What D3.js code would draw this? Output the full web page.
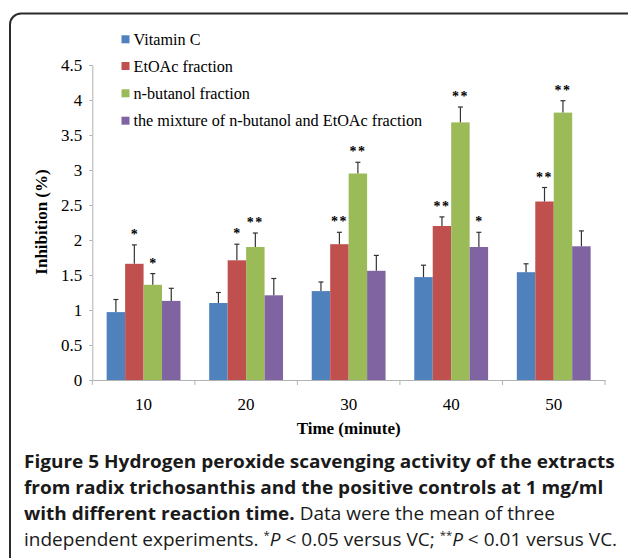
<!DOCTYPE html>
<html><head><meta charset="utf-8">
<script src="https://cdn.jsdelivr.net/npm/d3@7"></script>
<style>html,body{margin:0;padding:0;background:#fff;}svg{display:block;}</style>
</head><body>
<svg id="chart" width="628" height="558"></svg>
<script>
const categories = ["10", "20", "30", "40", "50"];
const seriesNames = ["Vitamin C", "EtOAc fraction", "n-butanol fraction", "the mixture of n-butanol and EtOAc fraction"];
const vitaminC = [0.97, 1.10, 1.27, 1.47, 1.54];
const vitaminCErr = [0.18, 0.15, 0.13, 0.17, 0.12];
const etoac = [1.66, 1.71, 1.94, 2.20, 2.55];
const etoacErr = [0.27, 0.23, 0.17, 0.13, 0.20];
const butanol = [1.36, 1.90, 2.95, 3.68, 3.82];
const butanolErr = [0.16, 0.20, 0.16, 0.22, 0.17];
const mixture = [1.13, 1.21, 1.56, 1.90, 1.91];
const mixtureErr = [0.18, 0.24, 0.22, 0.21, 0.22];
const vitaminCSig = ["", "", "", "", ""];
const etoacSig = ["*", "*", "**", "**", "**"];
const butanolSig = ["*", "**", "**", "**", "**"];
const mixtureSig = ["", "", "", "*", ""];
const yTicks = [0, 0.5, 1, 1.5, 2, 2.5, 3, 3.5, 4, 4.5];
const colors = ["#4F81BD", "#C0504D", "#9BBB59", "#8064A2"];

const series = [
  {name: seriesNames[0], values: vitaminC, errs: vitaminCErr, sig: vitaminCSig},
  {name: seriesNames[1], values: etoac, errs: etoacErr, sig: etoacSig},
  {name: seriesNames[2], values: butanol, errs: butanolErr, sig: butanolSig},
  {name: seriesNames[3], values: mixture, errs: mixtureErr, sig: mixtureSig}
];

const svg = d3.select("#chart");
const serif = "'Liberation Serif','Times New Roman',serif";

// frame
svg.append("rect").attr("x", 10).attr("y", 13.5).attr("width", 640).attr("height", 600)
  .attr("rx", 11).attr("ry", 11).attr("fill", "none").attr("stroke", "#2b2b2b").attr("stroke-width", 2);

const pL = 92.3, pR = 605, pT = 65, pB = 380;
const x0 = d3.scaleBand().domain(categories).range([pL, pR]).paddingInner(0.28).paddingOuter(0.14);
const xCat = d3.scaleBand().domain(categories).range([pL, pR]);
const x1 = d3.scaleBand().domain(d3.range(series.length)).range([0, x0.bandwidth()]);
const y = d3.scaleLinear().domain([0, 4.5]).range([pB, pT]);

// y axis
const yAxis = svg.append("g").attr("transform", `translate(${pL},0)`)
  .call(d3.axisLeft(y).tickValues(yTicks).tickSize(3).tickPadding(7).tickFormat(d => String(d)));
yAxis.select(".domain").attr("stroke", "#b3b3b3");
yAxis.selectAll(".tick line").attr("stroke", "#b3b3b3");
yAxis.selectAll("text").attr("font-family", serif).attr("font-size", 17).attr("fill", "#000");

// x axis
const xAxis = svg.append("g").attr("transform", `translate(0,${pB})`)
  .call(d3.axisBottom(xCat).tickSize(0).tickPadding(18));
xAxis.select(".domain").attr("stroke", "#b3b3b3");
xAxis.selectAll("text").attr("font-family", serif).attr("font-size", 17).attr("fill", "#000");
const bounds = categories.map(c => xCat(c)).concat([xCat(categories[categories.length-1]) + xCat.bandwidth()]);
svg.append("g").selectAll("line").data(bounds).join("line")
  .attr("x1", d => d).attr("x2", d => d).attr("y1", pB).attr("y2", pB + 5)
  .attr("stroke", "#b3b3b3");

// bars
const groups = svg.append("g").selectAll("g").data(categories).join("g")
  .attr("transform", c => `translate(${x0(c)},0)`);
groups.each(function(c, ci) {
  const g = d3.select(this);
  series.forEach((s, si) => {
    const bx = x1(si), bw = x1.bandwidth();
    const v = s.values[ci], e = s.errs[ci];
    g.append("rect").attr("x", bx).attr("width", bw).attr("y", y(v)).attr("height", y(0) - y(v))
      .attr("fill", colors[si]);
    const cx = bx + bw / 2;
    g.append("line").attr("x1", cx).attr("x2", cx).attr("y1", y(v)).attr("y2", y(v + e))
      .attr("stroke", "#333").attr("stroke-width", 1.2);
    g.append("line").attr("x1", cx - 2.5).attr("x2", cx + 2.5).attr("y1", y(v + e)).attr("y2", y(v + e))
      .attr("stroke", "#333").attr("stroke-width", 1.2);
    if (s.sig[ci]) {
      g.append("text").attr("x", cx).attr("y", y(v + e) - 6).attr("text-anchor", "middle")
        .attr("font-family", serif).attr("font-weight", "bold").attr("font-size", 14)
        .attr("letter-spacing", s.sig[ci].length > 1 ? 1.5 : 0)
        .text(s.sig[ci]);
    }
  });
});

// legend
const legY = [39.3, 66, 93.3, 120.7];
const leg = svg.append("g");
series.forEach((s, i) => {
  leg.append("rect").attr("x", 121.5).attr("y", legY[i] - 4).attr("width", 8).attr("height", 8).attr("fill", colors[i]);
  leg.append("text").attr("x", 133.5).attr("y", legY[i] + 5.5).attr("font-family", serif).attr("font-size", 16.2)
    .attr("fill", "#000").text(s.name);
});

// axis titles
svg.append("text").attr("transform", "translate(47,222) rotate(-90)").attr("text-anchor", "middle")
  .attr("font-family", serif).attr("font-weight", "bold").attr("font-size", 17).text("Inhibition (%)");
svg.append("text").attr("x", (pL + pR) / 2).attr("y", 434).attr("text-anchor", "middle")
  .attr("font-family", serif).attr("font-weight", "bold").attr("font-size", 17).text("Time (minute)");

// caption
const sans = "'Open Sans','Noto Sans',sans-serif";
const capOuter = svg.append("g").attr("transform", "translate(24,0)");
const cap = capOuter.append("g").attr("font-family", sans).attr("font-size", 18.5).attr("fill", "#1a1a1a");
function capLine(yy, parts) {
  const t = cap.append("text").attr("x", 0).attr("y", yy);
  parts.forEach(p => {
    const ts = t.append("tspan").text(p.t);
    if (p.b) ts.attr("font-weight", "bold");
    if (p.i) ts.attr("font-style", "italic");
    if (p.sup) ts.attr("font-size", 11).attr("dy", -7);
    if (p.down) ts.attr("dy", 7);
  });
  return t;
}
const first = capLine(468, [{t: "Figure 5 Hydrogen peroxide scavenging activity of the extracts", b: 1}]);
capLine(494, [{t: "from radix trichosanthis and the positive controls at 1 mg/ml", b: 1}]);
capLine(520, [{t: "with different reaction time.", b: 1}, {t: " Data were the mean of three"}]);
capLine(546, [{t: "independent experiments. "}, {t: "*", sup: 1}, {t: "P", i: 1, down: 1}, {t: " < 0.05 versus VC; "}, {t: "**", sup: 1}, {t: "P", i: 1, down: 1}, {t: " < 0.01 versus VC."}]);
const natural = first.node().getComputedTextLength();
cap.attr("transform", `scale(${591 / natural},1)`);
</script>
</body></html>
